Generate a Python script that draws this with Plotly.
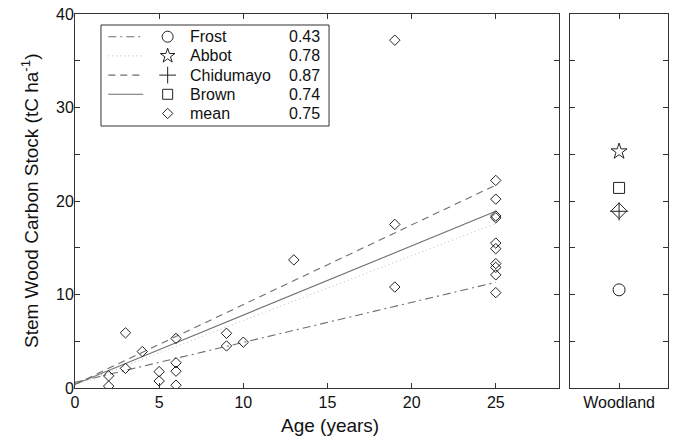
import plotly.graph_objects as go

# ---------------- data ----------------
age = [2, 2, 3, 3, 4, 5, 5, 6, 6, 6, 6, 9, 9, 10, 13, 19, 19, 19,
       25, 25, 25, 25, 25, 25, 25, 25, 25, 25]
carbon = [1.3, 0.2, 5.9, 2.1, 3.9, 1.75, 0.75, 5.3, 2.7, 1.8, 0.3, 5.85, 4.5, 4.9,
          13.7, 37.2, 17.5, 10.8,
          22.2, 20.2, 18.4, 18.2, 15.5, 14.9, 13.3, 12.9, 12.1, 10.2]

models = ["Frost", "Abbot", "Chidumayo", "Brown", "mean"]
r2 = ["0.43", "0.78", "0.87", "0.74", "0.75"]
fit_x = [0, 25]
fit_y = {
    "Frost": [0.6, 11.3],
    "Abbot": [0.3, 17.6],
    "Chidumayo": [0.4, 21.7],
    "Brown": [0.4, 18.9],
}
woodland_cat = ["Woodland"]
woodland_val = {"Frost": 10.5, "Abbot": 25.3, "Chidumayo": 18.9, "Brown": 21.4, "mean": 18.95}
x_ticks = [0, 5, 10, 15, 20, 25]
y_ticks = [0, 10, 20, 30, 40]

# ---------------- styles ----------------
FONT = "Liberation Sans, Arial, sans-serif"
AX = "#333333"
MK = "#222222"
TXT = "#111111"
LCOL = "#6e6e6e"
line_style = {
    "Frost": dict(color=LCOL, width=1.1, dash="8px,4px,2px,4px"),
    "Abbot": dict(color="#c4c4c4", width=1.1, dash="1px,3px"),
    "Chidumayo": dict(color=LCOL, width=1.1, dash="7px,5px"),
    "Brown": dict(color=LCOL, width=1.1),
}
marker_style = {
    "Frost": dict(symbol="circle-open", size=12),
    "Abbot": dict(symbol="star-open", size=12),
    "Chidumayo": dict(symbol="cross-thin-open", size=13),
    "Brown": dict(symbol="square-open", size=11),
    "mean": dict(symbol="diamond-open", size=12),
}

fig = go.Figure()

# fitted lines
for m in ["Frost", "Abbot", "Chidumayo", "Brown"]:
    fig.add_trace(go.Scatter(x=fit_x, y=fit_y[m], mode="lines", line=line_style[m],
                             xaxis="x", yaxis="y", showlegend=False, hoverinfo="skip"))

# mean data points
fig.add_trace(go.Scatter(x=age, y=carbon, mode="markers",
                         marker=dict(symbol="diamond-open", size=8, color=MK,
                                     line=dict(color=MK, width=1)),
                         xaxis="x", yaxis="y", showlegend=False))

# woodland panel
for m in models:
    ms = marker_style[m]
    fig.add_trace(go.Scatter(x=woodland_cat, y=[woodland_val[m]], mode="markers",
                             marker=dict(symbol=ms["symbol"], size=ms["size"], color=MK,
                                         line=dict(color=MK, width=1)),
                             xaxis="x2", yaxis="y2", showlegend=False))

# ---------------- custom legend (layout positions in axis-domain fractions) ----------------
leg_rows = [0.9393, 0.888, 0.8366, 0.7853, 0.734]
leg_line = [0.0688, 0.141]
leg_mark = 0.1915
leg_text = 0.233
leg_val = 0.5097
leg_size = {"Frost": 11, "Abbot": 11, "Chidumayo": 12, "Brown": 10, "mean": 8}

for i, m in enumerate(models):
    yy = leg_rows[i]
    if m in line_style:
        fig.add_trace(go.Scatter(x=leg_line, y=[yy, yy], mode="lines", line=line_style[m],
                                 xaxis="x3", yaxis="y3", showlegend=False, hoverinfo="skip"))
    ms = marker_style[m]
    fig.add_trace(go.Scatter(x=[leg_mark], y=[yy], mode="markers",
                             marker=dict(symbol=ms["symbol"], size=leg_size[m], color=MK,
                                         line=dict(color=MK, width=1)),
                             xaxis="x3", yaxis="y3", showlegend=False, hoverinfo="skip"))
    fig.add_annotation(x=leg_text, y=yy, xref="x3", yref="y3", text=m, showarrow=False,
                       xanchor="left", yanchor="middle", font=dict(family=FONT, size=16, color=TXT))
    fig.add_annotation(x=leg_val, y=yy, xref="x3", yref="y3", text=r2[i], showarrow=False,
                       xanchor="right", yanchor="middle", font=dict(family=FONT, size=16, color=TXT))

fig.add_shape(type="rect", xref="x3", yref="y3", x0=0.0537, x1=0.525, y0=0.7005, y1=0.9706,
              line=dict(color=AX, width=1), fillcolor="rgba(0,0,0,0)", layer="above")

# axis titles as annotations (positioned like the reference)
fig.add_annotation(x=0.527, y=0, xref="x domain", yref="y domain", yshift=-37,
                   text="Age (years)", showarrow=False, xanchor="center", yanchor="middle",
                   font=dict(family=FONT, size=19, color=TXT))
fig.add_annotation(x=0, y=0.5, xref="x domain", yref="y domain", xshift=-45,
                   text="Stem Wood Carbon Stock (tC ha<sup>-1</sup>)", textangle=-90,
                   showarrow=False, xanchor="center", yanchor="middle",
                   font=dict(family=FONT, size=19, color=TXT))

# ---------------- axes ----------------
common = dict(showline=True, linecolor=AX, linewidth=1, mirror="ticks", ticks="inside",
              ticklen=5, tickcolor=AX, showgrid=False, zeroline=False, automargin=False,
              ticklabeloverflow="allow",
              tickfont=dict(family=FONT, size=16, color=TXT))
yminor = dict(ticks="inside", ticklen=5, tickcolor=AX, dtick=5, tick0=0, showgrid=False)

fig.update_layout(
    width=674, height=439,
    margin=dict(l=75, r=6, t=14, b=51, autoexpand=False),
    paper_bgcolor="white", plot_bgcolor="white",
    font=dict(family=FONT, color=TXT),
    hovermode=False,
    xaxis=dict(domain=[0, 0.816], range=[0, 28.75], tickvals=x_ticks, anchor="y", **common),
    yaxis=dict(domain=[0, 1], range=[0, 40], tickvals=y_ticks, anchor="x", minor=yminor,
               ticklabelstandoff=-3, **common),
    xaxis2=dict(domain=[0.835, 1.0], type="category", range=[-1, 1], anchor="y2", **common),
    yaxis2=dict(domain=[0, 1], range=[0, 40], tickvals=y_ticks, minor=yminor,
                showticklabels=False, anchor="x2", **common),
    xaxis3=dict(overlaying="x", range=[0, 1], visible=False, anchor="y3"),
    yaxis3=dict(overlaying="y", range=[0, 1], visible=False, anchor="x3"),
)

fig.write_html("out.html", config={"displayModeBar": False, "staticPlot": True},
               post_script="document.body.style.margin='0';document.body.style.overflow='hidden';")
